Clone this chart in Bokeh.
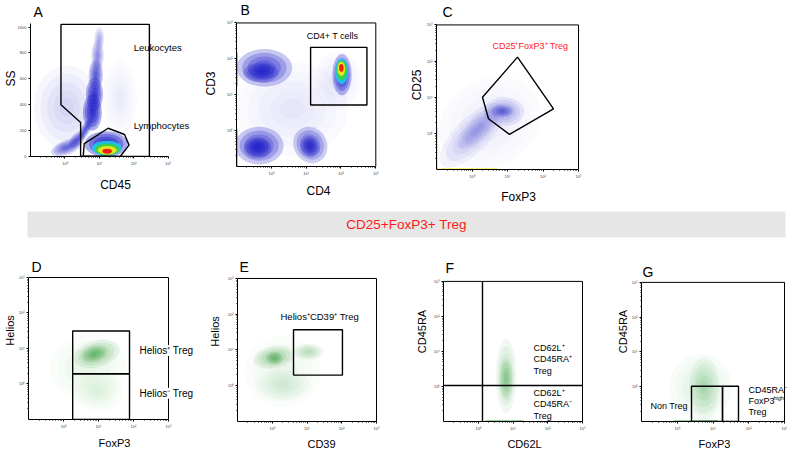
import math
from bokeh.plotting import figure
from bokeh.layouts import column, row
from bokeh.models import Range1d, FixedTicker, Label, Spacer
from bokeh.core.properties import value
from bokeh.embed import file_html
from bokeh.resources import INLINE

FONT = "Liberation Sans"
PALETTE = {"blue": "#1c1cc8", "cyan": "#1ec8e8", "green": "#3ad23a",
           "yellow": "#f6e41c", "red": "#ee1010", "lgreen": "#2f9a36",
           "pile_red": "#e84a1a", "pile_yellow": "#f2e200", "pile_green": "#2fae3a"}

# ---------------- data ----------------
log_ticks = [0, 1, 2, 3]
log_tick_labels = ["10⁰", "10¹", "10²", "10³"]
ss_ticks = [0, 200, 400, 600, 800, 1000]
ss_tick_labels = ["0", "200", "400", "600", "800", "1000"]
banner_text = "CD25+FoxP3+ Treg"

# Panel A: CD45 (log10) vs SS
A_cloud_x = [0.05, 1.60, 0.05, 0.35, 0.60, 0.80, 0.86, 0.90, 0.95, 1.00, 1.20]
A_cloud_y = [380, 450, 70, 130, 210, 340, 480, 630, 780, 910, 95]
A_cloud_w = [1.9, 1.0, 0.95, 0.60, 0.75, 0.55, 0.50, 0.42, 0.36, 0.30, 1.25]
A_cloud_h = [650, 600, 110, 90, 70, 280, 260, 240, 240, 180, 200]
A_cloud_angle = [0, 0, 20, 45, 60, 0, 0, 0, 0, 0, 0]
A_cloud_peak = [0.18, 0.08, 0.65, 0.65, 0.70, 0.88, 0.85, 0.70, 0.50, 0.35, 0.90]
A_hot_x = [1.22, 1.23, 1.23, 1.23]
A_hot_y = [65, 55, 48, 40]
A_hot_w = [0.86, 0.70, 0.55, 0.28]
A_hot_h = [115, 90, 65, 38]
A_hot_color = ["cyan", "green", "yellow", "red"]
A_leuk_x = [-0.114, -0.114, 0.457, 0.457, 2.457, 2.457]
A_leuk_y = [1020, 400, 263, 0, 0, 1020]
A_lymph_x = [0.534, 0.563, 1.257, 1.734, 1.866, 1.609]
A_lymph_y = [5, 100, 218, 170, 88, 0]

# Panel B: CD4 vs CD3 (log10)
B_cloud_x = [0.6, 1.9, -0.2, -0.3, -0.35, -0.4, 1.12, 1.10, 2.03]
B_cloud_y = [0.6, 1.4, 1.75, 1.62, -0.42, -0.48, -0.40, -0.45, 1.56]
B_cloud_w = [3.2, 1.3, 1.6, 1.0, 1.4, 0.8, 0.95, 0.55, 0.55]
B_cloud_h = [2.6, 1.6, 1.05, 0.55, 1.05, 0.6, 1.05, 0.6, 1.15]
B_cloud_angle = [0, 0, 0, 0, 0, 0, 30, 20, 0]
B_cloud_peak = [0.12, 0.12, 0.75, 0.80, 0.75, 0.80, 0.70, 0.70, 0.85]
B_hot_x = [2.02, 2.02, 2.01, 2.01]
B_hot_y = [1.65, 1.68, 1.72, 1.75]
B_hot_w = [0.38, 0.30, 0.22, 0.13]
B_hot_h = [0.70, 0.55, 0.40, 0.22]
B_hot_color = ["cyan", "green", "yellow", "red"]
B_gate = [1.128, 2.745, 0.714, 2.32]      # left, right, bottom, top
B_pile_y0 = [1.23, -1.0]
B_pile_y1 = [2.18, 0.04]

# Panel C: FoxP3 vs CD25 (log10)
C_cloud_x = [0.5, 0.0, 0.2, 0.9, 0.85]
C_cloud_y = [0.3, -0.05, 0.15, 0.6, 0.62]
C_cloud_w = [3.0, 2.4, 1.6, 1.15, 0.65]
C_cloud_h = [2.4, 0.95, 0.6, 0.8, 0.35]
C_cloud_angle = [30, 45, 45, 0, 0]
C_cloud_peak = [0.10, 0.25, 0.25, 0.35, 0.45]
C_gate_x = [1.282, 2.296, 1.056, 0.465, 0.296]
C_gate_y = [2.108, 0.676, -0.027, 0.405, 1.0]
C_pile_left_y1 = 0.16
C_pile_bottom_x1 = 0.72

# Panel D: FoxP3 vs Helios
D_cloud_x = [0.7, 1.0, 0.95, 0.87]
D_cloud_y = [0.45, -0.25, 0.85, 0.85]
D_cloud_w = [2.2, 1.4, 1.35, 0.75]
D_cloud_h = [1.9, 1.1, 0.75, 0.45]
D_cloud_angle = [0, 0, 15, 15]
D_cloud_peak = [0.12, 0.12, 0.40, 0.45]
D_gate_left = [0.262, 0.262]
D_gate_right = [1.886, 1.886]
D_gate_bottom = [0.288, -1.0]
D_gate_top = [1.493, 0.288]

# Panel E: CD39 vs Helios
E_cloud_x = [0.3, 0.3, 1.05, 0.05, 0.07]
E_cloud_y = [0.4, 0.0, 0.95, 0.8, 0.77]
E_cloud_w = [2.2, 1.6, 0.85, 1.2, 0.5]
E_cloud_h = [2.0, 0.9, 0.45, 0.62, 0.38]
E_cloud_angle = [0, 0, 0, 10, 0]
E_cloud_peak = [0.10, 0.15, 0.30, 0.40, 0.45]
E_gate = [0.612, 2.02, 0.297, 1.568]

# Panel F: CD62L vs CD45RA
F_cloud_x = [0.8, 0.8]
F_cloud_y = [0.3, 0.2]
F_cloud_w = [0.6, 0.42]
F_cloud_h = [2.1, 1.2]
F_cloud_angle = [0, 0]
F_cloud_peak = [0.30, 0.35]
F_gate_x = 0.122
F_gate_y = 0.028
F_pile_x = [0.21, 1.30]

# Panel G: FoxP3 vs CD45RA
G_cloud_x = [0.66, 0.76]
G_cloud_y = [0.0, -0.05]
G_cloud_w = [1.75, 0.85]
G_cloud_h = [1.9, 1.8]
G_cloud_angle = [0, 0]
G_cloud_peak = [0.14, 0.28]
G_gate_left = [0.399, 1.266]
G_gate_right = [1.266, 1.713]
G_gate_top = [0.014, 0.014]
G_pile_x = [-0.1, 1.13]

minor_log = [d + math.log10(k) for d in range(-1, 3) for k in range(2, 10)]


# ---------------- helpers ----------------
def panel(geom, letter, letter_pos, xlabel, ylabel, label_size, xstand, ystand,
          linear_y=False, box=True):
    # geom: figure left, width, figure top, common bottom border, frame left/right/top/bottom
    X0, W, Y0, Bc, Lx, Rx, Ty, By = geom
    L = Lx - X0
    H = By - Y0 + Bc
    kx = (Rx - Lx) / 4.0
    x_end = -1 + (W - L) / kx
    if linear_y:
        y_lo, y_hi = 0.0, 1024.0
    else:
        y_lo, y_hi = -1.0, 3.0
    ky = (By - Ty) / (y_hi - y_lo)
    y_end = y_lo + (By - Y0) / ky
    p = figure(width=W, height=H, output_backend="svg", toolbar_location=None, title=None,
               x_range=Range1d(-1, x_end), y_range=Range1d(y_lo, y_end),
               min_border_left=L, min_border_right=0, min_border_top=0, min_border_bottom=Bc)
    p.grid.visible = False
    p.outline_line_color = None

    def to_data(px, py):
        return (-1 + (px - Lx) / kx, y_lo + (By - py) / ky)

    yt = ss_ticks if linear_y else log_ticks
    yl = ss_tick_labels if linear_y else log_tick_labels
    specs = [(p.xaxis[0], log_ticks, log_tick_labels, minor_log, xlabel, xstand, (-1, 3)),
             (p.yaxis[0], yt, yl, [] if linear_y else minor_log, ylabel, ystand, (y_lo, y_hi))]
    for ax, t, lab, mn, name, st, bnd in specs:
        ax.ticker = FixedTicker(ticks=t, minor_ticks=mn)
        ax.bounds = bnd
        ax.major_label_overrides = dict(zip(t, lab))
        ax.major_label_text_font = FONT
        ax.major_label_text_font_size = "4px"
        ax.major_label_text_color = "#444444"
        ax.major_label_standoff = 2
        ax.major_tick_out = 2
        ax.major_tick_in = 0
        ax.minor_tick_out = 1
        ax.minor_tick_in = 0
        ax.axis_line_color = "black"
        ax.axis_line_width = 1
        ax.axis_label = name
        ax.axis_label_text_font = FONT
        ax.axis_label_text_font_size = label_size
        ax.axis_label_text_font_style = "normal"
        ax.axis_label_text_color = "black"
        ax.axis_label_standoff = st
    if box:
        p.segment(x0=[-1, 3], y0=[y_hi, y_lo], x1=[3, 3], y1=[y_hi, y_hi],
                  line_color="black", line_width=1)
    lx, ly = to_data(*letter_pos)
    p.add_layout(Label(x=lx, y=ly, text=letter, text_font=FONT, text_font_size="14px",
                       text_color="black", text_baseline="alphabetic", text_align="left"))
    return p


def clouds(p, cx, cy, w, h, ang, peak, color, layers=(1.0, 0.8, 0.6, 0.4, 0.22)):
    xs, ys, ws, hs, an, al = [], [], [], [], [], []
    n = len(layers)
    for i in range(len(cx)):
        a = 1 - (1 - peak[i]) ** (1.0 / n)
        for s in layers:
            xs.append(cx[i]); ys.append(cy[i])
            ws.append(w[i] * s); hs.append(h[i] * s)
            an.append(math.radians(ang[i])); al.append(a)
    p.ellipse(x=xs, y=ys, width=ws, height=hs, angle=an,
              fill_color=color, fill_alpha=al, line_color=None)


def hot(p, cx, cy, w, h, cols):
    p.ellipse(x=cx, y=cy, width=w, height=h,
              fill_color=[PALETTE[c] for c in cols], fill_alpha=0.92, line_color=None)


def text(p, x, y, t, size="9px", color="black", bg=None, xo=0, yo=0):
    p.add_layout(Label(x=x, y=y, text=t, text_font=FONT, text_font_size=size,
                       text_color=color, text_baseline="middle", text_align="left",
                       x_offset=xo, y_offset=yo,
                       background_fill_color=bg, background_fill_alpha=1.0 if bg else 0.0))


GATE = dict(line_color="black", line_width=1.4)
TOP_B = 34      # common bottom border, top row
BOT_B = 27      # common bottom border, bottom row

# ---------------- Panel A ----------------
pA = panel((0, 200, 0, TOP_B, 27, 167, 24, 160), "A", (30, 12), "CD45", "SS", "12px", 9, -3,
           linear_y=True, box=False)
clouds(pA, A_cloud_x, A_cloud_y, A_cloud_w, A_cloud_h, A_cloud_angle, A_cloud_peak, PALETTE["blue"])
hot(pA, A_hot_x, A_hot_y, A_hot_w, A_hot_h, A_hot_color)
pA.patch(A_leuk_x, A_leuk_y, fill_color=None, **GATE)
pA.patch(A_lymph_x, A_lymph_y, fill_color=None, **GATE)
text(pA, 2.0, 843, "Leukocytes", "9.5px")
text(pA, 2.0, 241, "Lymphocytes", "9.5px")

# ---------------- Panel B ----------------
pB = panel((200, 200, 0, TOP_B, 234, 375, 23, 170), "B", (238, 10), "CD4", "CD3", "12px", 5, 6)
clouds(pB, B_cloud_x, B_cloud_y, B_cloud_w, B_cloud_h, B_cloud_angle, B_cloud_peak, PALETTE["blue"])
hot(pB, B_hot_x, B_hot_y, B_hot_w, B_hot_h, B_hot_color)
pB.segment(x0=[-1, -1], y0=B_pile_y0, x1=[-1, -1], y1=B_pile_y1,
           line_color=PALETTE["pile_red"], line_width=2)
pB.quad(left=[B_gate[0]], right=[B_gate[1]], bottom=[B_gate[2]], top=[B_gate[3]],
        fill_color=None, **GATE)
text(pB, 1.014, 2.646, "CD4+ T cells", "9px")

# ---------------- Panel C ----------------
pC = panel((400, 200, 0, TOP_B, 436, 578, 25, 173), "C", (442, 12), "FoxP3", "CD25", "12px", 8, 0)
clouds(pC, C_cloud_x, C_cloud_y, C_cloud_w, C_cloud_h, C_cloud_angle, C_cloud_peak, PALETTE["blue"])
pC.segment(x0=[-1, -1], y0=[-1, -1], x1=[-1, C_pile_bottom_x1], y1=[C_pile_left_y1, -1],
           line_color=PALETTE["pile_yellow"], line_width=2)
pC.patch(C_gate_x, C_gate_y, fill_color=None, **GATE)
text(pC, 0.577, 2.43, "CD25⁺FoxP3⁺ Treg", "9px", color="#ff1a1a")

# ---------------- Banner ----------------
pBan = figure(width=787, height=34, output_backend="svg", toolbar_location=None, title=None,
              x_range=Range1d(0, 1), y_range=Range1d(0, 1),
              x_axis_type=None, y_axis_type=None,
              min_border_left=27, min_border_right=2, min_border_top=4, min_border_bottom=4)
pBan.grid.visible = False
pBan.outline_line_color = None
pBan.background_fill_color = "#e6e6e6"
pBan.text(x=[0.5], y=[0.5], text=[banner_text], text_align="center", text_baseline="middle",
          text_color="#ff1a1a", text_font=value(FONT), text_font_size=value("13.5px"))

# ---------------- Panel D ----------------
GREEN = PALETTE["lgreen"]
pD = panel((0, 200, 241, BOT_B, 28, 168, 278, 424), "D", (31, 267), "FoxP3", "Helios", "11px", 5, 0)
clouds(pD, D_cloud_x, D_cloud_y, D_cloud_w, D_cloud_h, D_cloud_angle, D_cloud_peak, GREEN)
pD.quad(left=D_gate_left, right=D_gate_right, bottom=D_gate_bottom, top=D_gate_top,
        fill_color=None, **GATE)
text(pD, 2.171, 0.945, "Helios⁺ Treg", "10px", bg="white")
text(pD, 2.171, -0.26, "Helios⁻ Treg", "10px", bg="white")

# ---------------- Panel E ----------------
pE = panel((200, 205, 241, BOT_B, 237, 376, 279, 426), "E", (239, 267), "CD39", "Helios", "11px", 4, 4)
clouds(pE, E_cloud_x, E_cloud_y, E_cloud_w, E_cloud_h, E_cloud_angle, E_cloud_peak, GREEN)
pE.quad(left=[E_gate[0]], right=[E_gate[1]], bottom=[E_gate[2]], top=[E_gate[3]],
        fill_color=None, **GATE)
text(pE, 0.237, 1.946, "Helios⁺CD39⁺ Treg", "9.5px")

# ---------------- Panel F ----------------
pF = panel((405, 200, 241, BOT_B, 443, 582, 282, 426), "F", (445, 268), "CD62L", "CD45RA", "11px", 4, 3)
clouds(pF, F_cloud_x, F_cloud_y, F_cloud_w, F_cloud_h, F_cloud_angle, F_cloud_peak, GREEN)
pF.segment(x0=[F_pile_x[0]], y0=[-1], x1=[F_pile_x[1]], y1=[-1],
           line_color=PALETTE["pile_green"], line_width=2)
pF.segment(x0=[F_gate_x, -1], y0=[-1, F_gate_y], x1=[F_gate_x, 3], y1=[3, F_gate_y], **GATE)
for yy, t in zip([1.11, 0.78, 0.44], ["CD62L⁺", "CD45RA⁺", "Treg"]):
    text(pF, 1.59, yy, t, "9px")
for yy, t in zip([-0.19, -0.50, -0.83], ["CD62L⁺", "CD45RA⁻", "Treg"]):
    text(pF, 1.59, yy, t, "9px")

# ---------------- Panel G ----------------
pG = panel((605, 182, 241, BOT_B, 641, 784, 283, 426), "G", (642, 272), "FoxP3", "CD45RA", "11px", 4, 0)
clouds(pG, G_cloud_x, G_cloud_y, G_cloud_w, G_cloud_h, G_cloud_angle, G_cloud_peak, GREEN)
pG.segment(x0=[G_pile_x[0]], y0=[-1], x1=[G_pile_x[1]], y1=[-1],
           line_color=PALETTE["pile_green"], line_width=2)
pG.quad(left=G_gate_left, right=G_gate_right, bottom=[-1, -1], top=G_gate_top,
        fill_color=None, **GATE)
text(pG, -0.75, -0.56, "Non Treg", "9px")
text(pG, 1.99, -0.10, "CD45RA⁻", "9px")
text(pG, 1.99, -0.40, "FoxP3", "9px")
text(pG, 1.99, -0.40, "high", "5.5px", xo=25, yo=3)
text(pG, 1.99, -0.73, "Treg", "9px")

layout = column(row(pA, pB, pC, Spacer(width=187, height=207)),
                pBan,
                row(pD, pE, pF, pG))

with open("out.html", "w") as f:
    f.write(file_html(layout, INLINE))
